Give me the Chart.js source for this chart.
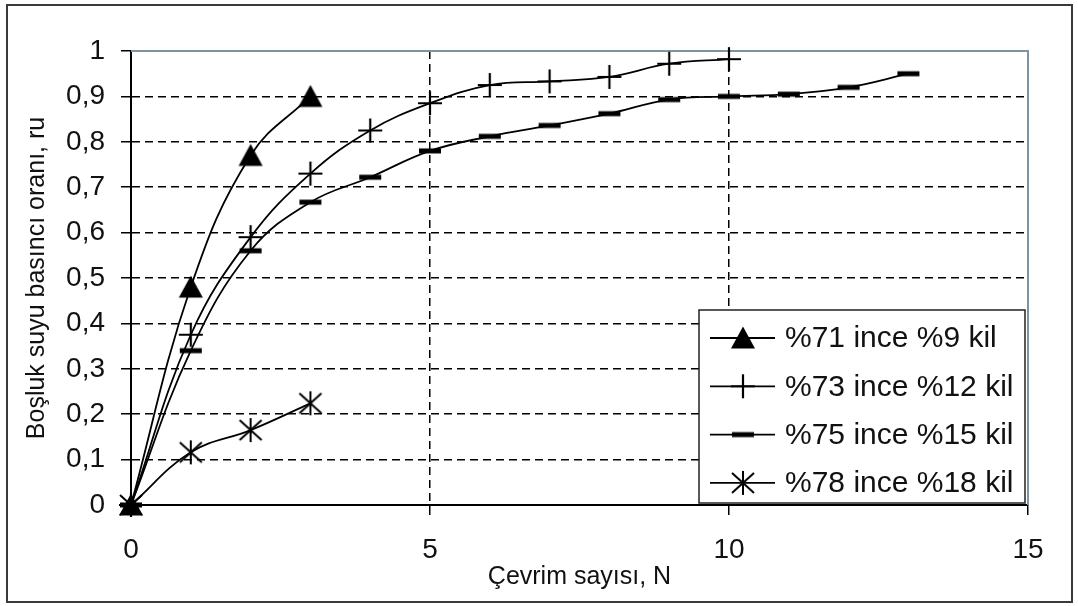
<!DOCTYPE html>
<html>
<head>
<meta charset="utf-8">
<script src="https://cdn.jsdelivr.net/npm/chart.js@4.4.1/dist/chart.umd.min.js"></script>
<style>
  html, body { margin: 0; padding: 0; background: #fff; }
  #wrap { width: 1078px; height: 606px; position: relative; }
</style>
</head>
<body>
<div id="wrap"><canvas id="myChart"></canvas></div>
<script>
// values
const cycles71 = [0, 1, 2, 3];
const ru71 = [0, 0.48, 0.77, 0.90];
const cycles73 = [0, 1, 2, 3, 4, 5, 6, 7, 8, 9, 10];
const ru73 = [0, 0.375, 0.59, 0.73, 0.825, 0.885, 0.925, 0.933, 0.943, 0.972, 0.982];
const cycles75 = [0, 1, 2, 3, 4, 5, 6, 7, 8, 9, 10, 11, 12, 13];
const ru75 = [0, 0.34, 0.56, 0.667, 0.722, 0.78, 0.812, 0.836, 0.862, 0.893, 0.90, 0.905, 0.92, 0.95];
const cycles78 = [0, 1, 2, 3];
const ru78 = [0, 0.116, 0.165, 0.224];
const seriesLabels = ['%71 ince %9 kil', '%73 ince %12 kil', '%75 ince %15 kil', '%78 ince %18 kil'];
const xTitle = 'Çevrim sayısı, N';
const yTitle = 'Boşluk suyu basıncı oranı, ru';

const FONT = "'Liberation Sans', Arial, sans-serif";

// marker pictures, also used by the legend
function makeMarker(kind) {
  const c = document.createElement('canvas');
  c.width = 26; c.height = 26;
  const g = c.getContext('2d');
  g.strokeStyle = '#000';
  g.fillStyle = '#000';
  if (kind === 'triangle') {
    g.beginPath();
    g.moveTo(13, 1.5); g.lineTo(25, 23.5); g.lineTo(1, 23.5);
    g.closePath(); g.fill();
  } else if (kind === 'plus') {
    g.lineWidth = 2.2;
    g.beginPath();
    g.moveTo(13, 1); g.lineTo(13, 25);
    g.moveTo(1, 13); g.lineTo(25, 13);
    g.stroke();
  } else if (kind === 'dash') {
    g.fillRect(2, 10.5, 22, 5);
  } else {
    g.lineWidth = 2;
    g.beginPath();
    g.moveTo(13, 1); g.lineTo(13, 25);
    g.moveTo(2, 3); g.lineTo(24, 23);
    g.moveTo(24, 3); g.lineTo(2, 23);
    g.stroke();
  }
  return c;
}
const markers = [makeMarker('triangle'), makeMarker('plus'), makeMarker('dash'), makeMarker('star')];

function pts(xs, ys) {
  return xs.map((x, i) => ({ x: x, y: ys[i] }));
}

function series(i, xs, ys) {
  return {
    label: seriesLabels[i],
    data: pts(xs, ys),
    borderColor: '#000',
    borderWidth: 1.8,
    tension: 0.4,
    clip: false,
    pointStyle: markers[i],
    pointRadius: 12,
    pointHoverRadius: 12
  };
}

const framePlugin = {
  id: 'frame',
  beforeDraw(chart) {
    const ctx = chart.ctx;
    ctx.save();
    ctx.fillStyle = '#fff';
    ctx.fillRect(0, 0, chart.width, chart.height);
    ctx.restore();
  },
  beforeDatasetsDraw(chart) {
    const { ctx, chartArea: a } = chart;
    ctx.save();
    ctx.strokeStyle = '#7d95a2';
    ctx.lineWidth = 2;
    ctx.beginPath();
    ctx.moveTo(a.left, a.top);
    ctx.lineTo(a.right, a.top);
    ctx.lineTo(a.right, a.bottom);
    ctx.stroke();
    ctx.restore();
  },
  afterDraw(chart) {
    const { ctx, chartArea: a } = chart;
    ctx.save();
    // legend box inside the plot
    const right = a.right - 3, bottom = a.bottom - 2;
    const w = 326, h = 193;
    const left = right - w, top = bottom - h;
    ctx.fillStyle = '#fff';
    ctx.fillRect(left, top, w, h);
    ctx.strokeStyle = '#222';
    ctx.lineWidth = 1.5;
    ctx.strokeRect(left, top, w, h);
    ctx.font = '30px ' + FONT;
    ctx.fillStyle = '#111';
    ctx.textBaseline = 'middle';
    ctx.textAlign = 'left';
    seriesLabels.forEach((lab, i) => {
      const y = top + 28 + i * 48.3;
      ctx.strokeStyle = '#000';
      ctx.lineWidth = 1.8;
      ctx.beginPath();
      ctx.moveTo(left + 11, y);
      ctx.lineTo(left + 76, y);
      ctx.stroke();
      const m = markers[i];
      ctx.drawImage(m, left + 44 - m.width / 2, y - m.height / 2);
      ctx.fillText(lab, left + 86, y + 1);
    });
    // outer frame
    ctx.strokeStyle = '#3a3a3a';
    ctx.lineWidth = 2;
    ctx.strokeRect(7, 5, 1065, 597);
    ctx.restore();
  }
};

const ctx = document.getElementById('myChart');

new Chart(ctx, {
  type: 'line',
  data: {
    datasets: [
      series(0, cycles71, ru71),
      series(1, cycles73, ru73),
      series(2, cycles75, ru75),
      series(3, cycles78, ru78)
    ]
  },
  options: {
    responsive: true,
    maintainAspectRatio: false,
    animation: false,
    layout: { padding: { left: 12, top: 51, right: 50, bottom: 0 } },
    scales: {
      x: {
        type: 'linear',
        min: 0,
        max: 15,
        afterFit: (s) => { s.height = 101; },
        ticks: {
          stepSize: 5,
          padding: 18,
          color: '#111',
          font: { family: FONT, size: 28 },
          maxRotation: 0
        },
        grid: {
          color: (c) => (c.tick && (c.tick.value === 5 || c.tick.value === 10)) ? '#000' : 'rgba(0,0,0,0)',
          lineWidth: 1.5,
          tickColor: '#000',
          tickLength: 10,
          tickWidth: 1.5
        },
        border: { color: '#000', width: 2, dash: [8, 5] },
        title: {
          display: true,
          text: xTitle,
          color: '#111',
          font: { family: FONT, size: 25 },
          padding: { top: 0, bottom: 14 }
        }
      },
      y: {
        min: 0,
        max: 1,
        afterFit: (s) => { s.width = 119; },
        ticks: {
          stepSize: 0.1,
          padding: 16,
          color: '#111',
          font: { family: FONT, size: 28 },
          callback: (v) => String(Number(v.toFixed(1))).replace('.', ',')
        },
        grid: {
          color: (c) => (c.tick && (c.tick.value > 0.05 && c.tick.value < 0.95)) ? '#000' : 'rgba(0,0,0,0)',
          lineWidth: 1.5,
          tickColor: '#000',
          tickLength: 10,
          tickWidth: 1.5
        },
        border: { color: '#000', width: 2, dash: [8, 5] },
        title: {
          display: true,
          text: yTitle,
          color: '#111',
          font: { family: FONT, size: 25 },
          padding: { top: 10, bottom: 0 }
        }
      }
    },
    plugins: {
      legend: { display: false },
      tooltip: { enabled: false }
    }
  },
  plugins: [framePlugin]
});
</script>
</body>
</html>
